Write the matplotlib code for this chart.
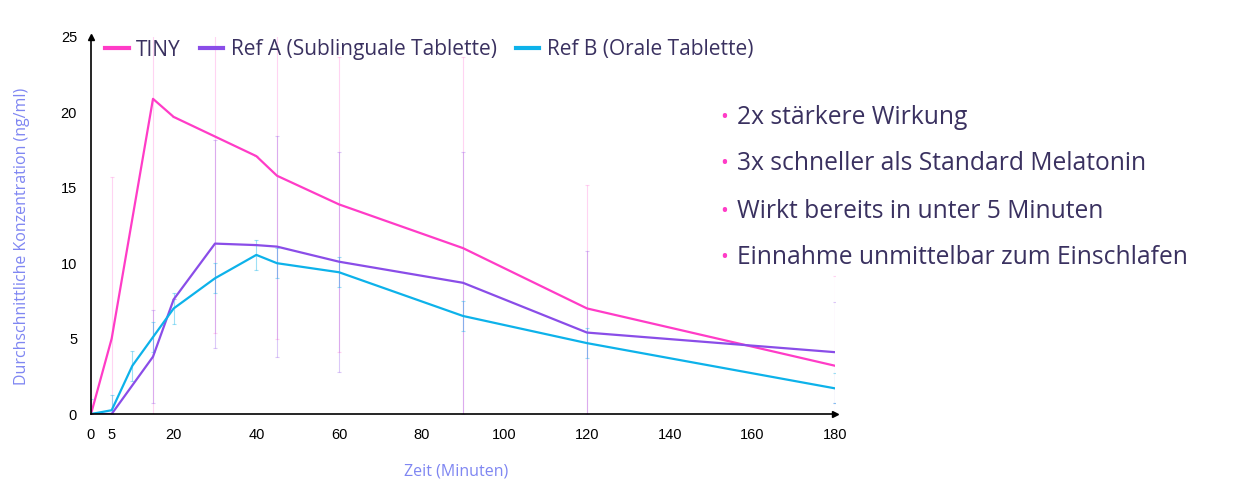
import matplotlib.pyplot as plt

# Zeitpunkte (Minuten) und Konzentrationen (ng/ml)
t_tiny = [0, 5, 15, 20, 30, 40, 45, 60, 90, 120, 180]
tiny = [0, 5.0, 20.9, 19.7, 18.4, 17.1, 15.8, 13.9, 11.0, 7.0, 3.2]
tiny_err = [0, 10.7, 21.0, 0, 13.0, 0, 10.8, 9.8, 12.7, 8.2, 5.95]

t_refa = [0, 5, 15, 20, 30, 40, 45, 60, 90, 120, 180]
refa = [0, 0, 3.8, 7.6, 11.3, 11.2, 11.1, 10.1, 8.7, 5.4, 4.1]
refa_err = [0, 0, 3.1, 0, 6.9, 0, 7.35, 7.3, 8.7, 5.4, 3.35]

t_refb = [0, 5, 10, 15, 20, 30, 40, 45, 60, 90, 120, 180]
refb = [0, 0.25, 3.2, 5.1, 7.0, 9.0, 10.55, 10.0, 9.4, 6.5, 4.7, 1.7]
refb_err = [1.0, 1.0, 1.0, 1.0, 1.0, 1.0, 1.0, 1.0, 1.0, 1.0, 1.0, 1.0]

labels = ['TINY', 'Ref A (Sublinguale Tablette)', 'Ref B (Orale Tablette)']
colors = ['#ff3cc7', '#8a4de8', '#0db2ea']
xticks = [0, 5, 20, 40, 60, 80, 100, 120, 140, 160, 180]
yticks = [0, 5, 10, 15, 20, 25]

bullets = ['2x stärkere Wirkung',
           '3x schneller als Standard Melatonin',
           'Wirkt bereits in unter 5 Minuten',
           'Einnahme unmittelbar zum Einschlafen']

text_font = 'Open Sans'
dark = '#3a3160'
axis_label_color = '#7f86f2'

fig = plt.figure(figsize=(12.35, 4.9), dpi=100)
ax = fig.add_axes([91 / 1235, 76 / 490, 744 / 1235, 377 / 490])

series = [(t_tiny, tiny, tiny_err), (t_refa, refa, refa_err), (t_refb, refb, refb_err)]
err_alpha = [0.22, 0.3, 0.4]

# error bars first, light and thin
for (t, v, e), c, a in zip(series, colors, err_alpha):
    ax.errorbar(t, v, yerr=e, fmt='none', ecolor=c, alpha=a, elinewidth=0.8,
                capsize=1.5, capthick=0.8)

for (t, v, e), c, lab in zip(series, colors, labels):
    ax.plot(t, v, color=c, lw=1.6, label=lab)

ax.set_xlim(0, 180)
ax.set_ylim(0, 25)
ax.set_xticks(xticks)
ax.set_yticks(yticks)
ax.tick_params(length=0, labelsize=10.5)
ax.tick_params(axis='x', pad=10)
ax.tick_params(axis='y', pad=10)
for lbl in ax.get_xticklabels() + ax.get_yticklabels():
    lbl.set_family('Liberation Sans')

for s in ['top', 'right']:
    ax.spines[s].set_visible(False)
for s in ['left', 'bottom']:
    ax.spines[s].set_linewidth(1.2)
ax.plot(1, 0, '>k', ms=4, transform=ax.transAxes, clip_on=False)
ax.plot(0, 1, '^k', ms=4, transform=ax.transAxes, clip_on=False)

ax.set_xlabel('Zeit (Minuten)', family=text_font, fontsize=11.5,
              color=axis_label_color)
ax.xaxis.set_label_coords(365 / 744, -49 / 377)
ax.set_ylabel('Durchschnittliche Konzentration (ng/ml)', family=text_font,
              fontsize=11.5, color=axis_label_color)
ax.yaxis.set_label_coords(-61 / 744, 178 / 377)

leg = fig.legend(loc='center left', bbox_to_anchor=(86 / 1235, 1 - 50 / 490),
                 ncol=3, frameon=False, handlelength=1.15, handletextpad=0.35,
                 columnspacing=0.9, prop={'family': text_font, 'size': 15})
for h in leg.get_lines():
    h.set_linewidth(3)
for txt in leg.get_texts():
    txt.set_color(dark)

for i, b in enumerate(bullets):
    y = 1 - (117 + 47 * i) / 490
    fig.text(724 / 1235, y, '•', color='#ff3cc7', fontsize=15,
             family=text_font, va='center', ha='center')
    fig.text(737 / 1235, y, b, color=dark, fontsize=17.7,
             family=text_font, va='center', ha='left')

plt.savefig('out.png')
